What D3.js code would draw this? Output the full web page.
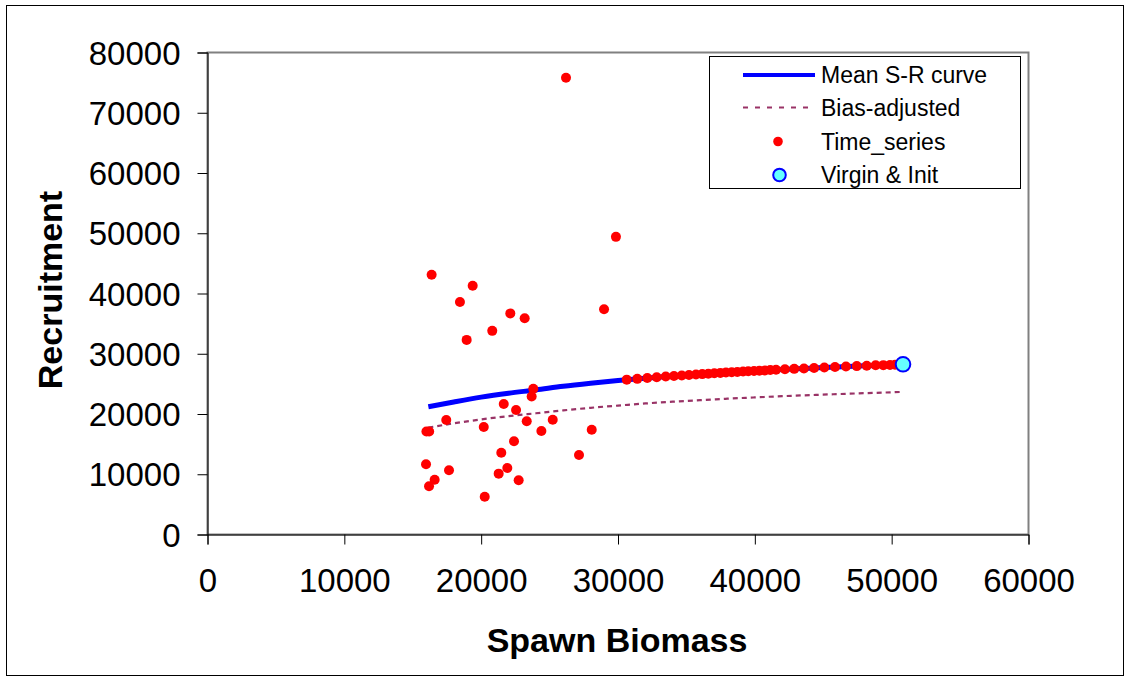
<!DOCTYPE html>
<html>
<head>
<meta charset="utf-8">
<script src="https://cdn.jsdelivr.net/npm/d3@7/dist/d3.min.js"></script>
<style>
  html, body { margin: 0; padding: 0; background: #fff; }
  svg { display: block; font-family: "Liberation Sans", Arial, sans-serif; }
</style>
</head>
<body>
<svg id="chart" width="1128" height="680"></svg>
<script>
// ---- Data (values in the chart's units) ----
const xTicks = [0, 10000, 20000, 30000, 40000, 50000, 60000];
const yTicks = [0, 10000, 20000, 30000, 40000, 50000, 60000, 70000, 80000];

// Mean S-R curve
const meanCurveX = [16140, 18000, 20000, 22000, 24000, 26000, 28000, 30000, 32000, 34000, 36000, 38000, 40000, 42000, 44000, 46000, 48000, 50000, 50830];
const meanCurveY = [21200, 22000, 22800, 23450, 24000, 24600, 25100, 25550, 25950, 26300, 26600, 26900, 27150, 27400, 27600, 27800, 28000, 28150, 28250];

// Bias-adjusted curve
const biasCurveX = [16140, 18000, 20000, 22000, 24000, 26000, 28000, 30000, 32000, 34000, 36000, 38000, 40000, 42000, 44000, 46000, 48000, 50000, 50830];
const biasCurveY = [17750, 18450, 19100, 19650, 20120, 20600, 21030, 21400, 21750, 22040, 22300, 22540, 22750, 22960, 23130, 23300, 23460, 23600, 23680];

// Time series points
const tsX = [26200, 29850, 16380, 19380, 18450, 22130, 23180, 28980, 20810, 18940,
             23810, 23690, 21650, 22550, 17450, 25230, 23330, 20190, 24400, 28080,
             16000, 16200, 22400, 21470, 27150, 15970, 17650, 21910, 21280, 22740,
             16600, 16190, 20260,
             30640, 31410, 32140, 32830, 33490, 34090, 34660, 35190, 35700, 36160,
             36600, 37040, 37480, 37890, 38310, 38720, 39140, 39520, 39940, 40330,
             40740, 41130, 41550, 42200, 42880, 43590, 44330, 45080, 45860, 46660,
             47450, 48180, 48830, 49390, 49880, 50250];
const tsY = [75800, 49400, 43100, 41300, 38600, 36700, 35900, 37400, 33800, 32300,
             24200, 22900, 21660, 20660, 19000, 19050, 18800, 17840, 17180, 17400,
             17100, 17100, 15470, 13580, 13200, 11650, 10650, 11040, 10100, 9000,
             9100, 8000, 6280,
             25700, 25830, 25970, 26100, 26210, 26310, 26400, 26480, 26550, 26620,
             26690, 26760, 26820, 26880, 26940, 26990, 27040, 27090, 27140, 27190,
             27240, 27290, 27340, 27420, 27490, 27560, 27630, 27710, 27790, 27870,
             27950, 28020, 28080, 28110, 28140, 28170];

// Virgin & Init
const virginX = [50830];
const virginY = [28250];

const legendLabels = ["Mean S-R curve", "Bias-adjusted", "Time_series", "Virgin & Init"];

// ---- Layout ----
const svg = d3.select("#chart");
const plot = { left: 207.5, right: 1028.5, top: 52.5, bottom: 534.5 };

const x = d3.scaleLinear().domain([0, 60000]).range([plot.left, plot.right]);
const y = d3.scaleLinear().domain([0, 80000]).range([plot.bottom, plot.top]);

// outer frame
svg.append("rect").attr("x", 6.5).attr("y", 5.5).attr("width", 1117).attr("height", 670)
  .attr("fill", "none").attr("stroke", "#000").attr("stroke-width", 1);

// plot area border (gray)
svg.append("rect").attr("x", plot.left).attr("y", plot.top)
  .attr("width", plot.right - plot.left).attr("height", plot.bottom - plot.top)
  .attr("fill", "#fff").attr("stroke", "#808080").attr("stroke-width", 2);

// axes
const xAxis = d3.axisBottom(x).tickValues(xTicks).tickSize(10).tickPadding(24).tickFormat(d3.format("d"));
const yAxis = d3.axisLeft(y).tickValues(yTicks).tickSize(10).tickPadding(17).tickFormat(d3.format("d"));

const gx = svg.append("g").attr("transform", `translate(0,${plot.bottom})`).call(xAxis);
const gy = svg.append("g").attr("transform", `translate(${plot.left},0)`).call(yAxis);
[gx, gy].forEach(g => {
  g.select(".domain").attr("stroke", "#000").attr("stroke-width", 1);
  g.selectAll(".tick line").attr("stroke", "#000").attr("stroke-width", 1);
  g.selectAll(".tick text").attr("fill", "#000").style("font-size", "33px")
    .style("font-family", "'Liberation Sans', Arial, sans-serif");
});
gy.selectAll(".tick text").attr("dy", "0.35em");

// axis titles
svg.append("text").attr("x", 617).attr("y", 652).attr("text-anchor", "middle")
  .style("font-size", "34px").style("font-weight", "bold").text("Spawn Biomass");
svg.append("text").attr("transform", "translate(62,290) rotate(-90)").attr("text-anchor", "middle")
  .style("font-size", "34px").style("font-weight", "bold").text("Recruitment");

// lines
const line = d3.line().x(d => x(d[0])).y(d => y(d[1])).curve(d3.curveMonotoneX);
svg.append("path").datum(biasCurveX.map((v, i) => [v, biasCurveY[i]]))
  .attr("d", line).attr("fill", "none").attr("stroke", "#993366")
  .attr("stroke-width", 2.2).attr("stroke-dasharray", "5,4");
svg.append("path").datum(meanCurveX.map((v, i) => [v, meanCurveY[i]]))
  .attr("d", line).attr("fill", "none").attr("stroke", "#0000ff").attr("stroke-width", 5);

// time series points
svg.append("g").selectAll("circle").data(tsX.map((v, i) => [v, tsY[i]])).join("circle")
  .attr("cx", d => x(d[0])).attr("cy", d => y(d[1])).attr("r", 5).attr("fill", "#ff0000");

// virgin
svg.append("g").selectAll("circle").data(virginX.map((v, i) => [v, virginY[i]])).join("circle")
  .attr("cx", d => x(d[0])).attr("cy", d => y(d[1])).attr("r", 7.3)
  .attr("fill", "#66ffff").attr("stroke", "#0000ff").attr("stroke-width", 2);

// legend
const lg = svg.append("g");
lg.append("rect").attr("x", 709.5).attr("y", 56.5).attr("width", 311).attr("height", 132)
  .attr("fill", "#fff").attr("stroke", "#000").attr("stroke-width", 1);
const rowY = [75, 107.5, 141.5, 175];
lg.append("line").attr("x1", 743).attr("x2", 815).attr("y1", rowY[0]).attr("y2", rowY[0])
  .attr("stroke", "#0000ff").attr("stroke-width", 4);
lg.append("line").attr("x1", 743).attr("x2", 815).attr("y1", rowY[1]).attr("y2", rowY[1])
  .attr("stroke", "#993366").attr("stroke-width", 2).attr("stroke-dasharray", "5,7");
lg.append("circle").attr("cx", 778).attr("cy", rowY[2]).attr("r", 4.8).attr("fill", "#ff0000");
lg.append("circle").attr("cx", 779.5).attr("cy", rowY[3]).attr("r", 6.3)
  .attr("fill", "#66ffff").attr("stroke", "#0000ff").attr("stroke-width", 2);
lg.selectAll("text.lbl").data(legendLabels).join("text").attr("class", "lbl")
  .attr("x", 821).attr("y", (d, i) => rowY[i]).attr("dy", "0.36em")
  .style("font-size", "23px").attr("fill", "#000").text(d => d);
</script>
</body>
</html>
